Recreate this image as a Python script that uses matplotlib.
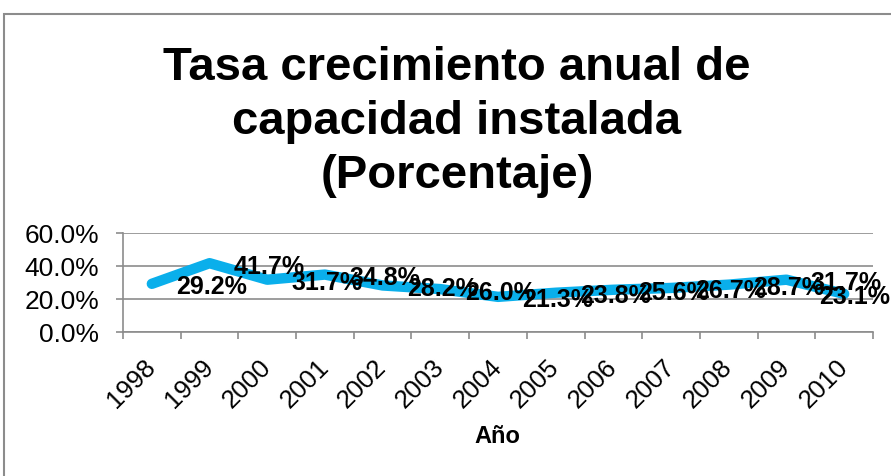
import numpy as np
import matplotlib
matplotlib.use('Agg')
import matplotlib.pyplot as plt
from matplotlib.ticker import FuncFormatter

plt.rcParams['font.family'] = ['Liberation Sans', 'DejaVu Sans']

years = ['1998', '1999', '2000', '2001', '2002', '2003', '2004',
         '2005', '2006', '2007', '2008', '2009', '2010']
tasa = [29.2, 41.7, 31.7, 34.8, 28.2, 26.0, 21.3, 23.8, 25.6, 26.7, 28.7, 31.7, 23.1]
title = 'Tasa crecimiento anual de\ncapacidad instalada\n(Porcentaje)'

W, H = 891, 477
fig = plt.figure(figsize=(W / 100, H / 100), dpi=100)
ax = fig.add_axes([123 / W, 1 - 333 / H, 750 / W, 99 / H])

x = np.arange(len(years))
ax.plot(x, tasa, color='#0AAFEB', lw=7.5, solid_capstyle='round',
        solid_joinstyle='round', zorder=3)

# data labels sit about one category to the right (as in the source chart)
for i, v in enumerate(tasa):
    lx = min(i + 1.04, 12.18)
    ax.text(lx, v - 1.5, f'{v:.1f}%', ha='center', va='center',
            fontsize=18, fontweight='bold', color='black', zorder=4)

ax.set_xlim(-0.5, 12.5)
ax.set_ylim(0, 60)
ax.set_yticks([0, 20, 40, 60])
ax.yaxis.set_major_formatter(FuncFormatter(lambda v, p: f'{v:.1f}%'))
ax.grid(axis='y', color='#8C8C8C', lw=1.2)
ax.set_axisbelow(True)

ax.set_xticks(np.arange(-0.5, 13, 1))
ax.set_xticklabels([])
ax.set_xticks(x, minor=True)
ax.set_xticklabels(years, minor=True, rotation=45, ha='right', va='center',
                   rotation_mode='anchor', fontsize=18.5)
ax.tick_params(axis='x', which='major', length=5, color='#8C8C8C', width=1.2)
ax.tick_params(axis='x', which='minor', length=0, pad=22)
ax.tick_params(axis='y', length=5, color='#8C8C8C', width=1.2, pad=12, labelsize=19)

for s in ['top', 'right']:
    ax.spines[s].set_visible(False)
for s in ['left', 'bottom']:
    ax.spines[s].set_color('#8C8C8C')
    ax.spines[s].set_linewidth(1.2)

fig.text(497 / W, 1 - 437 / H, 'Año', ha='center', va='center',
         fontsize=17, fontweight='bold')
fig.text(457 / W, 1 - 122 / H, title, ha='center', va='center',
         fontsize=34, fontweight='bold', linespacing=1.3)

# chart area border (cut off at right and bottom in the source)
fig.add_artist(plt.Rectangle((4 / W, -0.2), 1.2, 1.2 - 15 / H,
                             transform=fig.transFigure, fill=False,
                             edgecolor='#8C8C8C', lw=1.5))

fig.savefig('out.png', dpi=100)
